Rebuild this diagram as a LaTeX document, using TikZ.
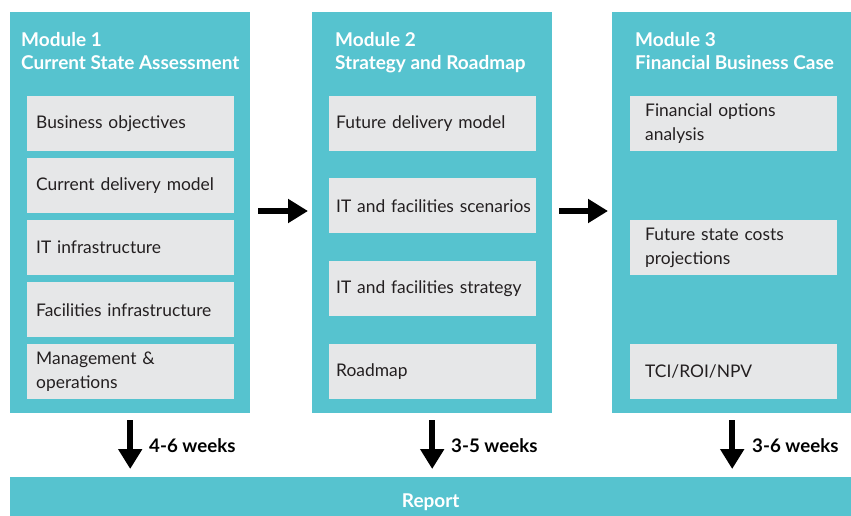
\documentclass[tikz,border=0pt]{standalone}
\usepackage{fontspec}
\setmainfont{Lato}
\usetikzlibrary{arrows.meta}
\definecolor{teal}{HTML}{56C3CF}
\definecolor{boxgray}{HTML}{E6E7E8}
\definecolor{ink}{HTML}{231F20}
\newcommand\nohyphens{\hyphenpenalty=10000\relax\exhyphenpenalty=10000\relax}
\tikzset{
  panel/.style={fill=teal, draw=none, anchor=north west, minimum width=240pt, minimum height=401pt, inner sep=0pt},
  itembase/.style={fill=boxgray, draw=none, anchor=north west, inner ysep=0pt, minimum height=55pt, align=left, text=ink, font=\fontsize{17.4}{24}\selectfont\nohyphens},
  itemA/.style={itembase, inner xsep=9pt, text width=189pt},
  itemB/.style={itembase, inner xsep=7pt, text width=193pt},
  itemC/.style={itembase, inner xsep=15pt, text width=177pt},
  title/.style={anchor=north west, inner sep=0pt, align=left, text=white, font=\fontsize{19}{23}\selectfont\bfseries},
  bigarrow/.style={line width=6pt, -{Triangle[length=20pt,width=23pt]}},
  weeks/.style={anchor=west, inner sep=0pt, font=\fontsize{18.7}{20}\selectfont\bfseries, text=black},
}
\begin{document}
\begin{tikzpicture}[x=1pt,y=-1pt]
\useasboundingbox (0,0) rectangle (851,516);
% panels
\node[panel] (m1) at (10,12) {};
\node[panel] (m2) at (312,12) {};
\node[panel] (m3) at (612,12) {};
% titles
\node[title] (t1) at (21,32) {Module 1\\Current State Assessment};
\node[title] (t2) at (335,32) {Module 2\\Strategy and Roadmap};
\node[title] (t3) at (635,32) {Module 3\\Financial Business Case};
% module 1 items
\node[itemA] (a1) at (27,96) {Business objectives};
\node[itemA] (a2) at (27,158) {Current delivery model};
\node[itemA] (a3) at (27,220) {IT infrastructure};
\node[itemA] (a4) at (27,282) {\mbox{Facilities infrastructure}};
\node[itemA] (a5) at (27,344) {Management \&\\operations};
% module 2 items
\node[itemB] (b1) at (329,96) {Future delivery model};
\node[itemB] (b2) at (329,178) {\mbox{IT and facilities scenarios}};
\node[itemB] (b3) at (329,261) {\mbox{IT and facilities strategy}};
\node[itemB] (b4) at (329,344) {Roadmap};
% module 3 items
\node[itemC] (c1) at (630,96) {Financial options\\analysis};
\node[itemC] (c2) at (630,220) {Future state costs\\projections};
\node[itemC] (c3) at (630,344) {TCI/ROI/NPV};
% report
\node[fill=teal, anchor=north west, minimum width=841pt, minimum height=39pt, inner sep=0pt] (rep) at (10,477) {};
\node[text=white, font=\fontsize{19}{20}\selectfont\bfseries, inner sep=0pt] (reptext) at ([yshift=-6pt]rep.center) {Report};
% horizontal arrows
\draw[bigarrow] ([xshift=8pt]m1.east |- 0,211) -- ([xshift=-4pt]m2.west |- 0,211);
\draw[bigarrow] ([xshift=7pt]m2.east |- 0,211) -- ([xshift=-4pt]m3.west |- 0,211);
% vertical arrows
\draw[bigarrow] ([yshift=-7pt]m1.south) -- ([yshift=8pt]rep.north -| m1.south);
\draw[bigarrow] ([yshift=-7pt]m2.south) -- ([yshift=8pt]rep.north -| m2.south);
\draw[bigarrow] ([yshift=-7pt]m3.south) -- ([yshift=8pt]rep.north -| m3.south);
% durations
\node[weeks] (w1) at (149,446) {4-6 weeks};
\node[weeks] (w2) at (451,446) {3-5 weeks};
\node[weeks] (w3) at (752,446) {3-6 weeks};
\end{tikzpicture}
\end{document}
